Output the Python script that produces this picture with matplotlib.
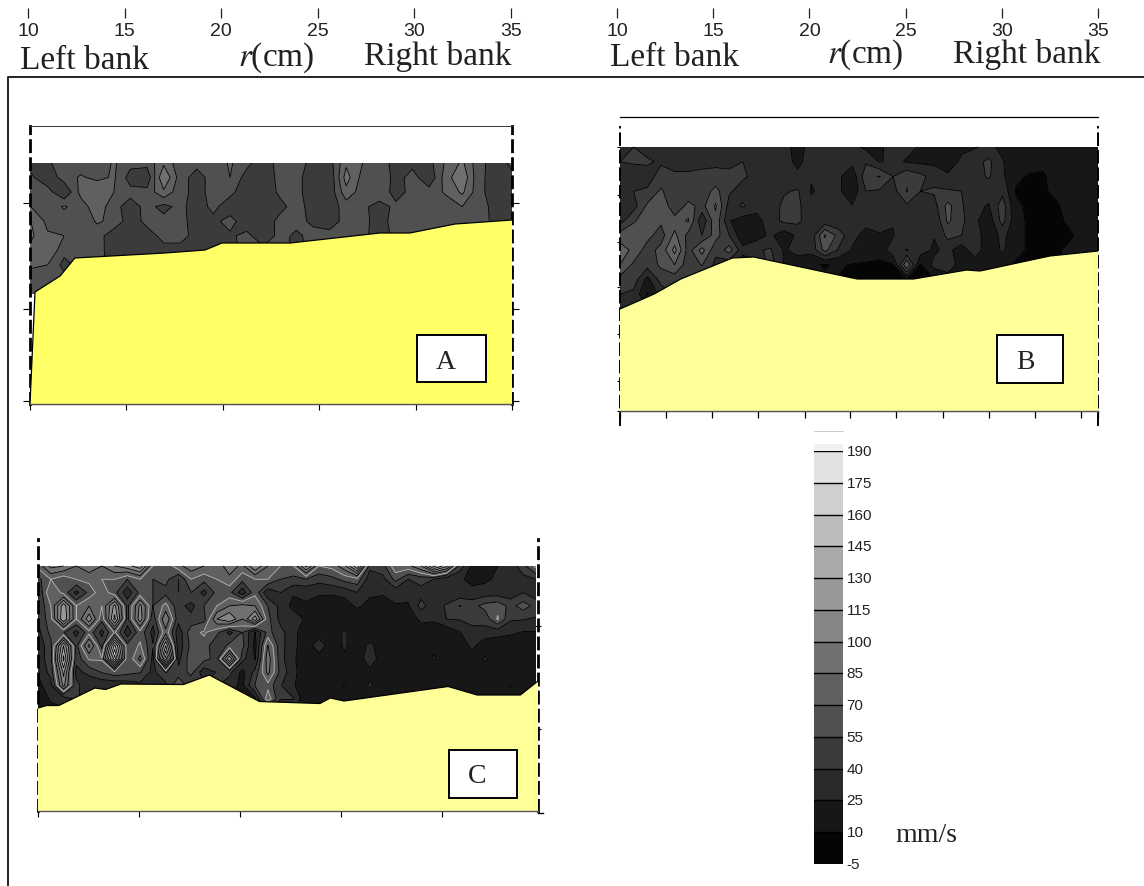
import numpy as np
import matplotlib
matplotlib.use("Agg")
import matplotlib.pyplot as plt
from matplotlib.patches import Rectangle
from matplotlib.transforms import ScaledTranslation

W, H = 1144, 887
SANS = "Liberation Sans"
SERIF = "Liberation Serif"

# --- shared scale ---
levels = [-5, 10, 25, 40, 55, 70, 85, 100, 115, 130, 145, 160, 175, 190]
band_colors = ["#050505", "#171717", "#2a2a2a", "#3b3b3b", "#505050", "#606060", "#707070",
               "#858585", "#989898", "#a9a9a9", "#bcbcbc", "#cfcfcf", "#e2e2e2"]
top_ticks = [10, 15, 20, 25, 30, 35]

# --- panel A ---
A_grid = [
 [48,50,70,62,60,72,60,60,82,60,60,60,72,60,44,62,62,50,48,82,70,62,50,50,50,72,88,60,48,58],
 [58,44,62,72,66,72,48,44,100,62,48,62,70,48,44,60,60,46,42,92,64,70,48,62,42,78,98,58,50,52],
 [62,62,40,75,85,70,60,60,82,60,50,60,60,44,44,58,60,46,44,80,62,70,46,62,62,72,88,60,46,48],
 [70,60,72,62,80,60,48,60,50,60,46,60,44,44,44,50,62,48,46,62,60,46,60,60,60,62,70,62,50,52],
 [85,66,62,60,72,66,46,60,60,60,48,50,62,44,44,60,60,52,48,60,60,48,62,62,62,62,62,60,52,46],
 [88,72,70,60,62,45,46,48,60,60,50,48,52,60,44,60,52,60,60,60,60,46,60,60,60,62,62,60,60,60],
 [80,84,60,70,60,48,48,50,50,50,50,48,50,60,60,60,50,60,60,60,60,60,60,60,60,60,60,60,60,60],
 [72,70,50,60,60,50,50,50,50,50,50,50,50,50,60,60,60,60,60,60,60,60,60,60,60,60,60,60,60,60],
 [64,60,60,60,60,60,60,60,60,60,60,60,60,60,60,60,60,60,60,60,60,60,60,60,60,60,60,60,60,60],
 [60,60,60,60,60,60,60,60,60,60,60,60,60,60,60,60,60,60,60,60,60,60,60,60,60,60,60,60,60,60],
]
A_bed_r = [10, 10.26, 11.56, 12.33, 17.0, 19.08, 19.96, 23.5, 28.15, 29.7, 32.05, 35]
A_bed_z = [0, 112, 128, 146, 151, 154, 161, 161, 171, 171, 180, 184]

# --- panel B ---
B_grid = [
 [40,40,35,32,38,38,35,35,28,32,32,32,28,22,28,30,28,30,22,22,32,28,24,22,22,24,24,28,22,14,14,14,12,14,12,14],
 [40,42,42,38,36,36,36,36,38,40,36,32,30,22,30,30,28,30,38,24,28,24,22,22,22,26,34,44,26,16,14,12,12,14,14,14],
 [36,30,34,46,42,42,44,46,42,42,36,30,28,28,26,28,28,14,50,56,40,52,44,34,26,30,34,42,28,12,9,9,14,14,14,14],
 [36,40,42,58,40,44,46,60,42,34,34,28,38,42,24,28,28,14,40,38,34,56,40,42,42,40,30,30,36,9,8,9,12,14,14,14],
 [28,34,58,70,42,60,50,72,34,42,30,30,44,44,28,30,26,26,30,26,38,38,34,34,60,42,28,24,48,12,8,8,9,14,14,14],
 [34,52,68,58,62,72,28,66,26,18,20,32,44,44,30,30,26,26,28,30,26,26,26,26,58,44,28,16,46,14,8,8,8,12,14,14],
 [62,70,60,48,74,50,40,62,40,14,18,28,16,28,30,72,50,28,22,24,24,38,30,26,44,40,34,14,30,14,8,9,8,9,14,14],
 [78,66,48,60,90,48,76,44,62,30,38,42,24,28,30,60,38,24,20,14,36,24,34,22,30,16,36,12,28,12,9,9,9,12,14,14],
 [70,52,46,58,70,46,56,36,28,16,18,48,24,20,12,9,12,9,8,8,9,70,8,30,40,14,14,12,12,9,9,9,9,12,14,14],
 [50,48,20,46,46,40,40,30,20,16,14,14,14,14,14,12,9,9,8,8,9,9,9,9,12,12,12,12,12,9,9,9,9,12,14,14],
 [40,36,9,30,40,40,30,30,20,16,14,14,14,14,14,12,9,9,8,8,9,9,9,9,12,12,12,12,12,9,9,9,9,12,14,14],
 [30,30,30,30,30,30,30,30,20,16,14,14,14,14,14,12,9,9,8,8,9,9,9,9,12,12,12,12,12,9,9,9,9,12,14,14],
]
B_bed_r = [10, 11.79, 13.18, 15.88, 17.0, 22.4, 25.35, 28.13, 28.83, 32.48, 35]
B_bed_z = [102, 117, 132, 153, 154, 132, 132, 141, 140, 155, 160]
B_ticks_r = [10, 12.43, 14.83, 17.23, 19.67, 22.05, 24.46, 26.9, 29.3, 31.7, 34.1, 35]
B_ticks_z = [0, 30, 77, 124, 169, 216, 264]

# --- panel C ---
C_grid = [
 [75,105,100,85,95,85,100,110,125,70,60,80,95,85,75,95,80,115,85,70,70,120,70,75,95,145,45,50,80,80,100,150,120,50,22,20,25,30,50,75],
 [50,70,60,70,75,70,70,55,70,55,60,40,70,60,70,80,60,70,70,55,50,55,45,50,60,65,30,35,60,40,45,40,27,27,22,22,28,30,35,40],
 [40,85,65,35,60,80,60,30,60,55,50,40,55,35,60,60,30,65,28,40,27,27,28,28,30,40,28,28,30,28,35,32,28,28,28,32,32,30,40,30],
 [40,70,125,70,85,70,120,50,105,55,75,45,35,55,70,85,90,85,55,35,20,24,15,13,18,28,20,15,24,24,45,32,42,56,50,60,65,50,62,50],
 [40,65,130,70,110,60,135,50,110,45,100,45,45,50,100,115,85,125,60,35,35,22,13,13,14,13,22,18,14,13,30,28,40,41,45,45,72,42,41,38],
 [35,60,56,35,65,35,72,30,65,35,80,30,65,72,60,35,56,24,60,45,30,15,13,13,28,13,13,13,13,13,14,13,14,24,35,35,30,28,24,24],
 [30,50,130,50,105,50,150,60,72,41,130,30,60,65,41,60,60,20,86,45,30,14,38,13,28,13,30,13,13,13,13,22,13,13,30,14,16,14,13,14],
 [30,50,150,45,72,72,185,56,90,35,170,35,65,60,50,130,45,24,95,45,28,13,14,14,22,13,38,13,13,13,13,27,13,13,13,28,13,13,14,13],
 [27,45,120,35,45,56,65,60,56,35,56,45,60,30,41,45,20,45,90,50,30,13,13,13,13,13,20,13,13,13,13,13,22,13,13,13,13,13,13,27],
 [20,35,105,45,27,27,27,30,35,35,35,72,41,41,41,30,22,56,65,41,27,13,13,13,27,13,28,13,13,13,13,13,13,13,22,13,13,27,13,20],
 [15,27,30,45,22,22,22,22,22,22,22,22,22,22,22,22,22,22,80,41,41,13,13,13,13,13,13,13,13,13,13,13,13,13,13,13,13,13,13,14],
 [15,20,22,22,22,22,22,22,22,22,22,22,22,22,22,22,22,22,30,27,20,13,13,13,13,13,13,13,13,13,13,13,13,13,13,13,13,13,13,14],
]
C_bed_r = [10, 10.43, 11.03, 12.82, 13.34, 14.11, 17.2, 18.48, 20.96, 23.96, 24.47, 25.15, 30.3, 31.74, 33.88, 34.75]
C_bed_z = [103, 105.5, 105.5, 123, 121.5, 127, 126.5, 136, 109.5, 107.5, 113, 110, 124.5, 116, 116, 130]
C_ticks_r = [10, 15, 20, 25, 30]

fig = plt.figure(figsize=(W / 100, H / 100), dpi=100, facecolor="white")


def px_axes(l, t, r, b, **kw):
    return fig.add_axes([l / W, 1 - b / H, (r - l) / W, (b - t) / H], **kw)


def draw_field(ax, grid, r0, r1, z_top, z_bot, gray_line=None):
    g = np.array(grid, float)
    rr = np.linspace(r0, r1, g.shape[1])
    zz = np.linspace(z_top, z_bot, g.shape[0])
    ax.contourf(rr, zz, g, levels=levels, colors=band_colors, zorder=1)
    cols = ["black"] * len(levels)
    if gray_line is not None:
        cols[levels.index(gray_line)] = "#b5b5b5"
    ax.contour(rr, zz, g, levels=levels, colors=cols, linewidths=0.6, zorder=2)


def draw_bed(ax, r, z, color, base_left, base_right):
    rb = [base_left] + list(r) + [base_right]
    zb = [0] + list(z) + [0]
    ax.fill(rb, zb, facecolor=color, edgecolor="none", zorder=3)
    ax.plot(r, z, color="black", lw=0.9, zorder=4)
    ax.plot([base_left, base_right], [0, 0], color="#555555", lw=1.0, zorder=4, clip_on=False)


# Panel A
axA = px_axes(30, 127, 512, 405)
axA.set_xlim(10, 35)
axA.set_ylim(0, 278)
draw_field(axA, A_grid, 10.05, 35, 241, 110)
draw_bed(axA, A_bed_r, A_bed_z, "#FFFF66", 10, 35)
axA.set_xticks(top_ticks)
axA.set_xticklabels([])
axA.set_yticks([3, 95, 201])
axA.set_yticklabels([])
axA.tick_params(axis="x", length=4, width=0.8, direction="out")
axA.tick_params(axis="y", left=True, right=True, length=5, width=0.8, direction="out")
for s in ("left", "right"):
    axA.spines[s].set_linestyle((0, (4, 2.5)))
    axA.spines[s].set_linewidth(2.0)
axA.spines["top"].set_linestyle((0, (1.5, 1)))
axA.spines["top"].set_linewidth(0.7)
axA.spines["top"].set_color("#333333")

# Panel B
axB = px_axes(620, 118, 1098, 412)
axB.set_xlim(10, 35)
axB.set_ylim(0, 294)
draw_field(axB, B_grid, 10, 35, 264, 102)
draw_bed(axB, B_bed_r, B_bed_z, "#FFFF99", 10, 35)
axB.set_xticks(B_ticks_r)
axB.set_xticklabels([])
axB.set_yticks(B_ticks_z)
axB.set_yticklabels([])
axB.tick_params(axis="x", length=5, width=0.9, direction="out")
axB.tick_params(axis="y", length=2, width=0.8, direction="out")
for s in ("left", "right"):
    axB.spines[s].set_linestyle((0, (6, 3)))
    axB.spines[s].set_linewidth(1.4)
    axB.spines[s].set_bounds(-14, 284)
axB.spines["top"].set_linewidth(0.9)

# Panel C
axC = px_axes(38, 540, 538, 812)
axC.set_xlim(10, 34.75)
axC.set_ylim(0, 272)
draw_field(axC, C_grid, 10, 34.65, 245, 99, gray_line=70)
draw_bed(axC, C_bed_r, C_bed_z, "#FFFF99", 10, 34.75)
axC.set_xticks(C_ticks_r)
axC.set_xticklabels([])
axC.yaxis.tick_right()
axC.set_yticks([82, 185])
axC.set_yticklabels([])
axC.tick_params(axis="x", length=4, width=0.8, direction="out")
axC.tick_params(axis="y", length=4, width=0.8, direction="inout")
axC.spines["top"].set_visible(False)
for s in ("left", "right"):
    axC.spines[s].set_linestyle((0, (4, 2.5)))
    axC.spines[s].set_linewidth(2.0)
axC.spines["bottom"].set_linewidth(1.1)

# Top r axes
for l, r in ((28, 511), (617, 1098)):
    t = px_axes(l, 8, r, 9)
    t.set_xlim(10, 35)
    t.set_xticks(top_ticks)
    t.set_xticklabels([str(v) for v in top_ticks], fontsize=14, family=SANS)
    t.tick_params(axis="x", length=7, width=0.9, pad=3, colors="#222222")
    t.set_yticks([])
    t.patch.set_alpha(0)
    for s in t.spines.values():
        s.set_visible(False)

# Colorbar
axCb = px_axes(814, 452, 843, 865)
axCb.pcolormesh([0, 1], levels, np.array(levels[:-1], float).reshape(-1, 1),
                cmap=matplotlib.colors.ListedColormap(band_colors),
                norm=matplotlib.colors.BoundaryNorm(levels, len(band_colors)))
axCb.set_xlim(0, 1)
axCb.set_ylim(-5, 190)
axCb.set_xticks([])
axCb.yaxis.tick_right()
axCb.set_yticks(levels)
axCb.set_yticklabels([str(v) for v in levels], fontsize=11, family=SANS, color="#222222")
axCb.tick_params(axis="y", length=0, pad=2.5)
shift = ScaledTranslation(0, 1.5 / 100, fig.dpi_scale_trans)
for lab in axCb.get_yticklabels():
    lab.set_transform(lab.get_transform() + shift)
for v in levels[1:]:
    axCb.axhline(v, color="black", lw=1.0, zorder=3)
for s in axCb.spines.values():
    s.set_visible(False)

# Overlay in pixel units
ov = fig.add_axes([0, 0, 1, 1], zorder=10)
ov.set_xlim(0, W)
ov.set_ylim(H, 0)
ov.axis("off")
ov.patch.set_alpha(0)
ov.plot([8, 8, W], [H, 78, 78], color="#222222", lw=1.4)
ov.add_patch(Rectangle((814, 445), 29, 7, facecolor="#f0f0f0", edgecolor="none"))
ov.plot([814, 843], [432, 432], color="#cccccc", lw=0.7)
ov.plot([538, 543], [814, 814], color="black", lw=1)

for (x0, y0, x1, y1, cx, cy, s) in ((417, 336, 486, 383, 446, 363, "A"),
                                    (997, 336, 1063, 384, 1025, 363, "B"),
                                    (449, 751, 517, 799, 477, 777, "C")):
    ov.add_patch(Rectangle((x0, y0), x1 - x0, y1 - y0, facecolor="white", edgecolor="black", lw=1.4))
    ov.text(cx, cy, s, family=SERIF, fontsize=20, ha="center", va="center", color="#222222")

for x, y, s in ((85, 61, "Left bank"), (438, 57, "Right bank"),
                (674, 58, "Left bank"), (1027, 55, "Right bank")):
    ov.text(x, y, s, family=SERIF, fontsize=24, ha="center", va="center", color="#222222")
for x, y in ((276, 58), (865, 55)):
    ov.text(x, y, r"$\mathit{r}$(cm)", family=SERIF, fontsize=24, ha="center", va="center",
            color="#222222", math_fontfamily="stix")
ov.text(926, 836, "mm/s", family=SERIF, fontsize=20, ha="center", va="center", color="#222222")

fig.savefig("out.png", dpi=100)
